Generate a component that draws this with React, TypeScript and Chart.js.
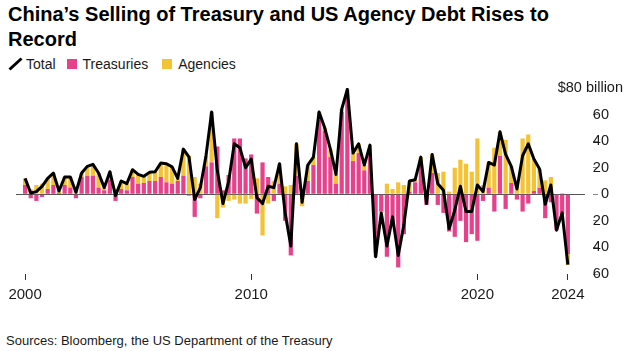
import React, { useEffect, useRef } from 'react';
import { Chart, registerables } from 'chart.js';

Chart.register(...registerables);

const FONT = '"Liberation Sans", Arial, Helvetica, sans-serif';

// Quarterly categories, 2000 Q1 .. 2024 Q1
const startYear = 2000;
const allQuarters: string[] = [];
for (let y = 2000; y <= 2024; y++) for (let q = 1; q <= 4; q++) allQuarters.push(`${y} Q${q}`);
const categories: string[] = allQuarters.slice(0, 97);

// $ billion, net purchases (+) / sales (-)
const treasuries: number[] = [
  7, -3, -5, -2, 4, 7, 1, 7, 5, -3, 13, 14, 14, 5, 3, 11,
  -5, 4, 3, 13, 8, 8.5, 10, 10, 13, 9, 8, 10, 14, -1, -17, -3,
  21, 24, 36, 3, 14.5, 42, 42, 27, 30, -14.5, 24, 13, -5, 8, -20, -46,
  14, 3, 10, 22, 56, 48, 28, 8, 62, 72, 25, 31, 18, 30, -44, -13,
  -47, -21, -55, -30, 2, 9, 22, -8, 16, -8, -14, -28, -32, -20, -36, -30,
  -35, -5, 5, -13, 29, -11, 8.5, -4, -13, -7, 2.5, 5, -18, -6, -27, -15,
  -45,
];
const agencies: number[] = [
  5, 4, 7, 8, 8, 9, 1.5, 6, 8, 4.5, 3, 7, 8.5, 11, 2, 6,
  4, 6, 5, 5.5, 7, 5, 6.5, 7, 10.5, 14, 12.6, 2, 20, 29, 13, 8,
  8, 38, -18, -10, -5, -4, -7, -7, -3.5, 12, -31, -7, 10, 15, 6, 7,
  24, -9, 12, 6, 6, 2, 6, 7, 2, 7, 6, 7, 4, 7, -3, -1,
  8, 4, 9, 7, 8, 2, 6, 1, 14, 16, 17, 2, 20, 26, 23, 17,
  42, 7, 19, 35, 18, 41, 12.5, 8, 42, 45, 24, 14, 10.5, 13, 0, 1,
  -8,
];
const total: number[] = [
  12, 1, 2, 6, 12, 16, 2.5, 13, 13, 1.5, 16, 21, 22.5, 16, 5, 17,
  -1, 10, 8, 18.5, 15, 13.5, 16.5, 17, 23.5, 23, 20.6, 12, 34, 28, -4, 5,
  29, 62, 18, -7, 9.5, 38, 35, 20, 26.5, -2.5, -7, 6, 5, 23, -14, -39,
  38, -6, 22, 28, 62, 50, 34, 15, 64, 79, 31, 38, 22, 37, -47, -14,
  -39, -17, -46, -23, 10, 11, 28, -7, 30, 8, 3, -26, -12, 6, -13, -13,
  7, 2, 24, 22, 47, 30, 21, 4, 29, 38, 26.5, 19, -7.5, 7, -27, -14,
  -53,
];

const yearTicks: number[] = [2000, 2010, 2020, 2024];
const valueTicks: number[] = [-60, -40, -20, 0, 20, 40, 60, 80];

const PINK = '#E8418B';
const YELLOW = '#F4C335';

const zeroLinePlugin = {
  id: 'zeroLine',
  beforeDatasetsDraw(chart: any) {
    const { ctx, chartArea, scales } = chart;
    const y = Math.round(scales.y.getPixelForValue(0)) + 0.5;
    ctx.save();
    ctx.strokeStyle = '#555';
    ctx.lineWidth = 1;
    ctx.beginPath();
    ctx.moveTo(chartArea.left, y);
    ctx.lineTo(chartArea.right - 8, y);
    ctx.stroke();
    ctx.restore();
  },
};

const unitLabelPlugin = {
  id: 'unitLabel',
  afterDraw(chart: any) {
    const { ctx, scales } = chart;
    const y = scales.y.getPixelForValue(80);
    ctx.save();
    ctx.font = `14.5px ${FONT}`;
    ctx.fillStyle = '#1a1a1a';
    ctx.textAlign = 'right';
    ctx.textBaseline = 'middle';
    ctx.fillText('$80 billion', scales.y.right + 14, y);
    ctx.restore();
  },
};

export default function App() {
  const canvasRef = useRef<HTMLCanvasElement | null>(null);

  useEffect(() => {
    if (!canvasRef.current) return;
    const chart = new Chart(canvasRef.current, {
      type: 'bar',
      data: {
        labels: categories,
        datasets: [
          {
            type: 'line',
            label: 'Total',
            data: total.map((v, i) => ({ x: i, y: v })),
            borderColor: '#000',
            borderWidth: 3,
            pointRadius: 0,
            tension: 0,
            fill: false,
            borderJoinStyle: 'round',
            stack: 'total',
            order: 0,
          } as any,
          {
            type: 'bar',
            label: 'Treasuries',
            data: treasuries.map((v, i) => ({ x: i, y: v })),
            backgroundColor: PINK,
            barPercentage: 0.75,
            categoryPercentage: 1,
            stack: 'flows',
            order: 1,
          },
          {
            type: 'bar',
            label: 'Agencies',
            data: agencies.map((v, i) => ({ x: i, y: v })),
            backgroundColor: YELLOW,
            barPercentage: 0.75,
            categoryPercentage: 1,
            stack: 'flows',
            order: 1,
          },
        ],
      },
      options: {
        animation: false,
        responsive: false,
        maintainAspectRatio: false,
        devicePixelRatio: 1,
        layout: { padding: { left: 16, right: 25, top: 18, bottom: 5 } },
        plugins: { legend: { display: false }, tooltip: { enabled: false } },
        scales: {
          x: {
            type: 'linear',
            stacked: true,
            offset: false,
            min: -1.606,
            max: 100.46,
            border: { display: false },
            grid: { display: true, offset: false, drawOnChartArea: false, drawTicks: true, tickLength: 6, color: '#333' },
            afterBuildTicks: (s: any) => {
              s.ticks = yearTicks.map((y) => ({ value: (y - startYear) * 4 }));
            },
            ticks: {
              autoSkip: false,
              maxRotation: 0,
              padding: 6,
              color: '#1a1a1a',
              font: { family: FONT, size: 15 },
              callback: (v: any) => String(startYear + Number(v) / 4),
            },
          },
          y: {
            position: 'right',
            stacked: true,
            min: -60,
            max: 80,
            border: { display: false },
            grid: {
              display: true,
              drawOnChartArea: false,
              drawTicks: true,
              tickLength: 5,
              color: (c: any) => (c.tick && c.tick.value === 80 ? 'rgba(0,0,0,0)' : '#888'),
            },
            afterBuildTicks: (s: any) => {
              s.ticks = valueTicks.map((v) => ({ value: v }));
            },
            ticks: {
              padding: -5,
              crossAlign: 'far',
              color: '#1a1a1a',
              font: { family: FONT, size: 14.5 },
              callback: (v: any) => (Number(v) === 80 ? '' : String(v)),
            },
          },
        },
      } as any,
      plugins: [zeroLinePlugin, unitLabelPlugin],
    });
    return () => chart.destroy();
  }, []);

  return (
    <div style={{ position: 'absolute', left: 0, top: 0, width: 634, height: 351, background: '#fff', fontFamily: FONT, overflow: 'hidden' }}>
      <div style={{ position: 'absolute', left: 8, top: 2, fontSize: 20, lineHeight: '25px', fontWeight: 700, color: '#000' }}>
        China’s Selling of Treasury and US Agency Debt Rises to
        <br />
        Record
      </div>
      <div style={{ position: 'absolute', left: 8, top: 56, height: 16, display: 'flex', alignItems: 'center', fontSize: 14, lineHeight: '16px', color: '#1a1a1a' }}>
        <svg width="15" height="14" style={{ marginRight: 3 }}>
          <line x1="1.5" y1="12.5" x2="13.5" y2="1.5" stroke="#000" strokeWidth="3" />
        </svg>
        <span>Total</span>
        <span style={{ display: 'inline-block', width: 10, height: 10, background: PINK, marginLeft: 11, marginRight: 6 }} />
        <span>Treasuries</span>
        <span style={{ display: 'inline-block', width: 10, height: 10, background: YELLOW, marginLeft: 14, marginRight: 6 }} />
        <span>Agencies</span>
      </div>
      <canvas ref={canvasRef} width={634} height={245} style={{ position: 'absolute', left: 0, top: 70, width: 634, height: 245 }} />
      <div style={{ position: 'absolute', left: 6, top: 333, fontSize: 13, lineHeight: '16px', color: '#1a1a1a' }}>
        Sources: Bloomberg, the US Department of the Treasury
      </div>
    </div>
  );
}
